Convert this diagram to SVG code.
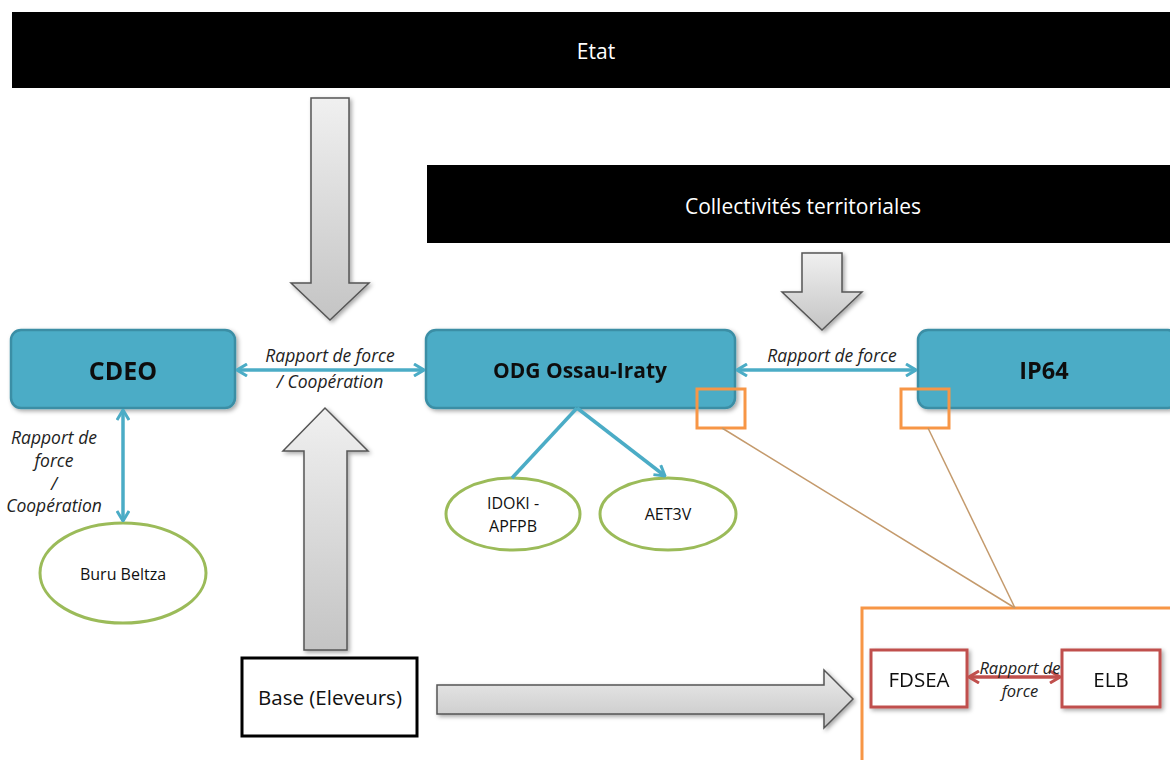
<svg xmlns="http://www.w3.org/2000/svg" width="1170" height="760" viewBox="0 0 1170 760">
<defs>
<linearGradient id="gray" x1="0" y1="0" x2="0" y2="1">
<stop offset="0" stop-color="#f0f0f0"/><stop offset="1" stop-color="#c4c4c4"/>
</linearGradient>
<linearGradient id="grayh" x1="0" y1="0" x2="0" y2="1">
<stop offset="0" stop-color="#ececec"/><stop offset="1" stop-color="#c6c6c6"/>
</linearGradient>
<filter id="sh" x="-10%" y="-10%" width="130%" height="130%">
<feDropShadow dx="2" dy="2" stdDeviation="2" flood-color="#000" flood-opacity="0.35"/>
</filter>
<marker id="ab" viewBox="0 0 12 14" refX="11" refY="7" markerWidth="12" markerHeight="14" markerUnits="userSpaceOnUse" orient="auto-start-reverse">
<path d="M1,1 L11,7 L1,13" fill="none" stroke="#4bacc6" stroke-width="3"/>
</marker>
<marker id="ar" viewBox="0 0 12 14" refX="11" refY="7" markerWidth="12" markerHeight="14" markerUnits="userSpaceOnUse" orient="auto-start-reverse">
<path d="M1,1 L11,7 L1,13" fill="none" stroke="#c0504d" stroke-width="3"/>
</marker>
</defs>
<style>
text{font-family:"Open Sans","Liberation Sans",sans-serif;text-anchor:middle;dominant-baseline:central}
.bar{fill:#000}
.wt{fill:#fff;font-size:21px}
.box{fill:#4bacc6;stroke:#3b8ea5;stroke-width:2.5}
.bt{font-size:22px;font-weight:bold;fill:#111}
.ell{fill:#fff;stroke:#9bbb59;stroke-width:3}
.et{font-size:16px;fill:#111}
.lbl{font-size:17.5px;font-style:italic;fill:#222}
.blue{stroke:#4bacc6;stroke-width:3.5;fill:none}
.red{stroke:#c0504d;stroke-width:3.5;fill:none}
.arr{fill:url(#gray);stroke:#555;stroke-width:1.5}
.orb{fill:none;stroke:#f79646;stroke-width:3}
.tan{stroke:#c49a6c;stroke-width:1.5;fill:none}
.rbox{fill:#fff;stroke:#c0504d;stroke-width:3}
.rt{font-size:20.5px;fill:#111}
</style>

<g id="etat"><rect class="bar" x="12" y="12" width="1160" height="76"/><text class="wt" x="596" y="51">Etat</text></g>
<g id="collectivites"><rect class="bar" x="427" y="165" width="745" height="78"/><text class="wt" x="803" y="206">Collectivités territoriales</text></g>

<g id="big-arrows" filter="url(#sh)">
<path class="arr" d="M311,98 H349 V283 H369 L330,320 L291,283 H311 Z"/>
<path class="arr" d="M802,253 H842 V292 H862 L822,330 L782,292 H802 Z"/>
<path class="arr" d="M304,650 V451 H283 L325,408 L368,451 H347 V650 Z"/>
<path class="arr" style="fill:url(#grayh)" d="M437,685 H824 V670 L853,699 L824,728 V714 H437 Z"/>
</g>

<g id="cdeo" filter="url(#sh)"><rect class="box" x="11" y="330" width="224" height="78" rx="10"/><text class="bt" x="123" y="370" style="font-size:25px">CDEO</text></g>
<g id="odg" filter="url(#sh)"><rect class="box" x="426" y="330" width="309" height="78" rx="10"/><text class="bt" x="580" y="370" style="font-size:21px">ODG Ossau-Iraty</text></g>
<g id="ip64" filter="url(#sh)"><rect class="box" x="918" y="330" width="260" height="78" rx="10"/><text class="bt" x="1044" y="370" style="font-size:23.5px">IP64</text></g>

<g id="buru-beltza"><ellipse class="ell" cx="123" cy="573" rx="83" ry="50"/><text class="et" x="123" y="574">Buru Beltza</text></g>
<g id="idoki"><ellipse class="ell" cx="513" cy="514" rx="67" ry="36"/><text class="et" x="513" y="503">IDOKI -</text><text class="et" x="513" y="526">APFPB</text></g>
<g id="aet3v"><ellipse class="ell" cx="668" cy="514" rx="68" ry="36"/><text class="et" x="668" y="514">AET3V</text></g>

<g id="base"><rect x="242" y="658" width="175" height="78" fill="#fff" stroke="#000" stroke-width="3"/><text class="rt" x="330" y="697">Base (Eleveurs)</text></g>

<g id="zoom-box"><rect x="862" y="608" width="320" height="160" fill="#fff" stroke="#f79646" stroke-width="3"/></g>
<g id="fdsea" filter="url(#sh)"><rect class="rbox" x="871" y="650" width="96" height="57"/><text class="rt" x="919" y="679">FDSEA</text></g>
<g id="elb" filter="url(#sh)"><rect class="rbox" x="1062" y="650" width="98" height="57"/><text class="rt" x="1111" y="679">ELB</text></g>

<g id="connectors">
<line class="blue" x1="237" y1="370" x2="424" y2="370" marker-start="url(#ab)" marker-end="url(#ab)"/>
<line class="blue" x1="737" y1="370" x2="916" y2="370" marker-start="url(#ab)" marker-end="url(#ab)"/>
<line class="blue" x1="123" y1="410" x2="123" y2="521" marker-start="url(#ab)" marker-end="url(#ab)"/>
<line class="blue" x1="577" y1="408" x2="512" y2="478"/>
<line class="blue" x1="577" y1="408" x2="665" y2="476" marker-end="url(#ab)"/>
<line class="red" x1="969" y1="677" x2="1060" y2="677" marker-start="url(#ar)" marker-end="url(#ar)"/>
<rect class="orb" x="697" y="389" width="48" height="39"/>
<rect class="orb" x="901" y="389" width="48" height="39"/>
<line class="tan" x1="722" y1="428" x2="1015" y2="608"/>
<line class="tan" x1="928" y1="428" x2="1015" y2="608"/>
</g>

<g id="labels">
<text class="lbl" x="330" y="355">Rapport de force</text>
<text class="lbl" x="330" y="381">/ Coopération</text>
<text class="lbl" x="832" y="355">Rapport de force</text>
<text class="lbl" x="54" y="437">Rapport de</text>
<text class="lbl" x="54" y="460">force</text>
<text class="lbl" x="54" y="483">/</text>
<text class="lbl" x="54" y="505">Coopération</text>
<text class="lbl" x="1020" y="667" style="font-size:16.5px">Rapport de</text>
<text class="lbl" x="1020" y="690" style="font-size:16.5px">force</text>
</g>
</svg>
